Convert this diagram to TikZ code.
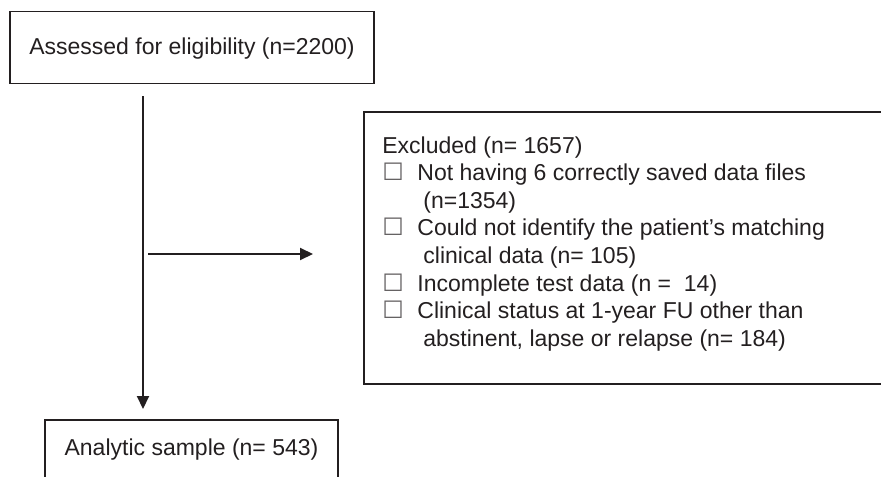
\documentclass[tikz,border=0pt]{standalone}
\usepackage{fontspec}
\setmainfont{Liberation Sans}
\newfontfamily\symfont{DejaVu Sans}
\usetikzlibrary{positioning,arrows.meta}
\definecolor{inkcolor}{RGB}{35,31,32}
\newcommand{\chkbox}{\makebox[17.5pt][l]{\color{inkcolor!70}\symfont\fontsize{12pt}{12pt}\selectfont\char"2610}}
\newcommand{\contline}{\hspace*{20.5pt}}

\begin{document}
\begin{tikzpicture}[x=0.5pt, y=-0.5pt,
    box/.style={draw=inkcolor, line width=0.75pt, inner sep=0pt, text=inkcolor, font=\fontsize{11.5pt}{13.8pt}\selectfont},
    txt/.style={inner sep=0pt, text=inkcolor, align=left, font=\fontsize{11.5pt}{13.8pt}\selectfont},
    line/.style={draw=inkcolor, line width=1pt},
    arrow/.style={line, -{Triangle[length=6.5pt,width=6pt]}}
]
\useasboundingbox (0,0) rectangle (881,476);
\clip (0,0) rectangle (881,476);

% Boxes
\node[box, minimum width=182pt, text height=21.5pt, text depth=14.5pt, anchor=north] (assess) at (192,11) {Assessed for eligibility (n=2200)};
\node[box, minimum width=146.5pt, text height=18pt, text depth=20pt, anchor=north] (sample) at (191.5,419) {Analytic sample (n= 543)};
\node[box, minimum width=280pt, minimum height=136pt, anchor=north west] (excl) at (363,111) {};

% Exclusion list
\node[txt, anchor=north west] (exclText) at (382,136) {
    Excluded (n= 1657)\\
    \chkbox Not having 6 correctly saved data files\\
    \contline(n=1354)\\
    \chkbox Could not identify the patient’s matching\\
    \contline clinical data (n= 105)\\
    \chkbox Incomplete test data (n = \ 14)\\
    \chkbox Clinical status at 1-year FU other than\\
    \contline abstinent, lapse or relapse (n= 184)
};

% Arrows
\coordinate (trunkTop) at (143,96);
\coordinate (trunkEnd) at (143,409);
\coordinate (branch) at (148,254);
\coordinate (branchEnd) at (313,254);
\draw[arrow] (trunkTop) -- (trunkEnd);
\draw[arrow] (branch) -- (branchEnd);

\end{tikzpicture}
\end{document}
